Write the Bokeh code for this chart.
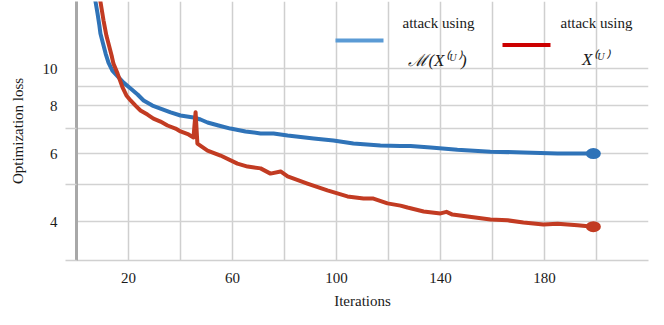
from bokeh.plotting import figure
from bokeh.models import FixedTicker, Label, BoxAnnotation, Range1d
from bokeh.embed import file_html
from bokeh.resources import INLINE

# ---- data ----
iters_blue = [6.5, 7.3, 8.1, 8.8, 9.2, 10.4, 11.2, 12.3, 13.8, 16.2, 18.1, 20.8, 23.5, 25.8,
              29.2, 32.3, 36.2, 40.0, 45.0, 47.7, 50.4, 54.6, 59.2, 65.0, 70.8, 75.8, 81.2,
              86.2, 91.2, 98.8, 106.5, 116.9, 124.6, 128.5, 136.2, 146.5, 159.2, 171.9,
              185.0, 195.0, 198.8]
loss_blue = [15.77, 14.94, 13.90, 12.94, 12.33, 11.48, 10.94, 10.36, 9.88, 9.48, 9.19, 8.87,
             8.56, 8.26, 8.01, 7.87, 7.69, 7.55, 7.46, 7.37, 7.24, 7.11, 6.98, 6.86, 6.78,
             6.78, 6.70, 6.64, 6.58, 6.50, 6.38, 6.31, 6.29, 6.29, 6.23, 6.15, 6.08, 6.05,
             6.01, 6.01, 6.01]

iters_red = [8.5, 9.2, 10.4, 11.5, 12.3, 13.5, 14.2, 15.8, 17.7, 19.2, 20.8, 22.7, 24.6,
             27.3, 29.6, 32.3, 35.0, 38.1, 40.0, 43.1, 45.0, 45.8, 46.5, 50.4, 55.4, 61.9,
             65.8, 70.8, 74.6, 78.5, 81.2, 88.8, 96.5, 104.2, 110.4, 114.2, 119.6, 124.6,
             127.3, 133.5, 140.0, 142.3, 144.6, 159.2, 165.8, 171.9, 179.6, 185.0, 192.7,
             198.8]
loss_red = [15.77, 14.94, 13.33, 12.18, 11.61, 10.81, 10.30, 9.70, 8.93, 8.51, 8.26, 8.01,
            7.78, 7.59, 7.41, 7.28, 7.11, 6.98, 6.86, 6.74, 6.62, 7.7, 6.38, 6.12, 5.94,
            5.66, 5.56, 5.50, 5.33, 5.40, 5.24, 5.02, 4.82, 4.65, 4.59, 4.59, 4.46, 4.40,
            4.35, 4.25, 4.20, 4.24, 4.17, 4.05, 4.03, 3.98, 3.93, 3.95, 3.91, 3.88]

x_tick_labels = [20, 60, 100, 140, 180]
x_grid_values = [20, 40, 60, 80, 100, 120, 140, 160, 180, 200, 220]
y_tick_labels = [4, 6, 8, 10]
y_grid_values = [4, 5, 6, 7, 8, 9, 10]
y_minor_marks = [3.168, 5, 7]

legend_blue_line1 = "attack using"
legend_blue_line2 = "\u2133(X\u207d\u1d41\u207e)"
legend_red_line1 = "attack using"
legend_red_line2 = "X\u207d\u1d41\u207e"

X_MIN, X_MAX = 0, 220
Y_MIN, Y_MAX = 3.168, 14.94

SERIF = "Liberation Serif"
BLUE = "#2f73b8"
RED = "#c23b22"
GRID = "#d2d2d2"

p = figure(width=664, height=318, output_backend="svg", toolbar_location=None,
           y_axis_type="log",
           x_range=Range1d(X_MIN, X_MAX), y_range=Range1d(Y_MIN, Y_MAX),
           min_border_left=76, min_border_right=16, min_border_top=1,
           min_border_bottom=58)
p.outline_line_color = None
p.background_fill_color = "white"

# grids
p.xgrid.ticker = FixedTicker(ticks=x_grid_values)
p.ygrid.ticker = FixedTicker(ticks=y_grid_values)
p.xgrid.grid_line_color = "#cfcfcf"
p.ygrid.grid_line_color = GRID
p.xgrid.grid_line_width = 1.5
p.ygrid.grid_line_width = 1.5

# x axis
xa = p.xaxis[0]
xa.ticker = FixedTicker(ticks=x_tick_labels, minor_ticks=[])
xa.axis_line_color = "#d0d0d0"
xa.axis_line_width = 1.5
xa.major_tick_line_color = None
xa.major_tick_out = 0
xa.major_tick_in = 0
xa.minor_tick_line_color = None
xa.major_label_standoff = 12
xa.major_label_text_font = SERIF
xa.major_label_text_font_size = "15px"
xa.major_label_text_color = "#1a1a1a"
xa.axis_label = "Iterations"
xa.axis_label_text_font = SERIF
xa.axis_label_text_font_size = "15px"
xa.axis_label_text_font_style = "normal"
xa.axis_label_text_color = "#1a1a1a"
xa.axis_label_standoff = 7

# y axis
ya = p.yaxis[0]
ya.ticker = FixedTicker(ticks=y_tick_labels, minor_ticks=y_minor_marks)
ya.major_label_overrides = {v: str(v) for v in y_tick_labels}
ya.axis_line_color = "#a8a8a8"
ya.axis_line_width = 3
ya.major_tick_line_color = None
ya.major_tick_out = 0
ya.major_tick_in = 0
ya.minor_tick_line_color = "#d0d0d0"
ya.minor_tick_line_width = 1.5
ya.minor_tick_out = 11
ya.minor_tick_in = 0
ya.major_label_standoff = 8
ya.major_label_text_font = SERIF
ya.major_label_text_font_size = "15px"
ya.major_label_text_color = "#1a1a1a"
ya.axis_label = "Optimization loss"
ya.axis_label_text_font = SERIF
ya.axis_label_text_font_size = "15px"
ya.axis_label_text_font_style = "normal"
ya.axis_label_text_color = "#1a1a1a"
ya.axis_label_standoff = 14

# series
p.line(iters_blue, loss_blue, line_color=BLUE, line_width=4, line_join="round")
p.line(iters_red, loss_red, line_color=RED, line_width=4, line_join="round")
p.ellipse(x=[iters_blue[-1]], y=[loss_blue[-1]], width=15, height=11,
          width_units="screen", height_units="screen", fill_color=BLUE, line_color=None)
p.ellipse(x=[iters_red[-1]], y=[loss_red[-1]], width=15, height=11,
          width_units="screen", height_units="screen", fill_color=RED, line_color=None)

# legend (manual, canvas pixel units)
p.add_layout(BoxAnnotation(left=335, right=383, top=38, bottom=42,
                           left_units="canvas", right_units="canvas",
                           top_units="canvas", bottom_units="canvas",
                           fill_color="#5b9bd5", fill_alpha=1, line_color=None))
p.add_layout(BoxAnnotation(left=502, right=550, top=42.5, bottom=46.5,
                           left_units="canvas", right_units="canvas",
                           top_units="canvas", bottom_units="canvas",
                           fill_color="#cc0000", fill_alpha=1, line_color=None))

def add_text(txt, x, y, size="15px", style="normal"):
    p.add_layout(Label(x=x, y=y, x_units="canvas", y_units="canvas", text=txt,
                       text_align="center", text_baseline="middle",
                       text_font=SERIF, text_font_size=size, text_font_style=style,
                       text_color="#1a1a1a"))

add_text(legend_blue_line1, 438, 22)
add_text(legend_blue_line2, 437, 60, size="17px", style="italic")
add_text(legend_red_line1, 596, 22)
add_text(legend_red_line2, 595, 59, size="17px", style="italic")

open("out.html", "w").write(file_html(p, INLINE))
